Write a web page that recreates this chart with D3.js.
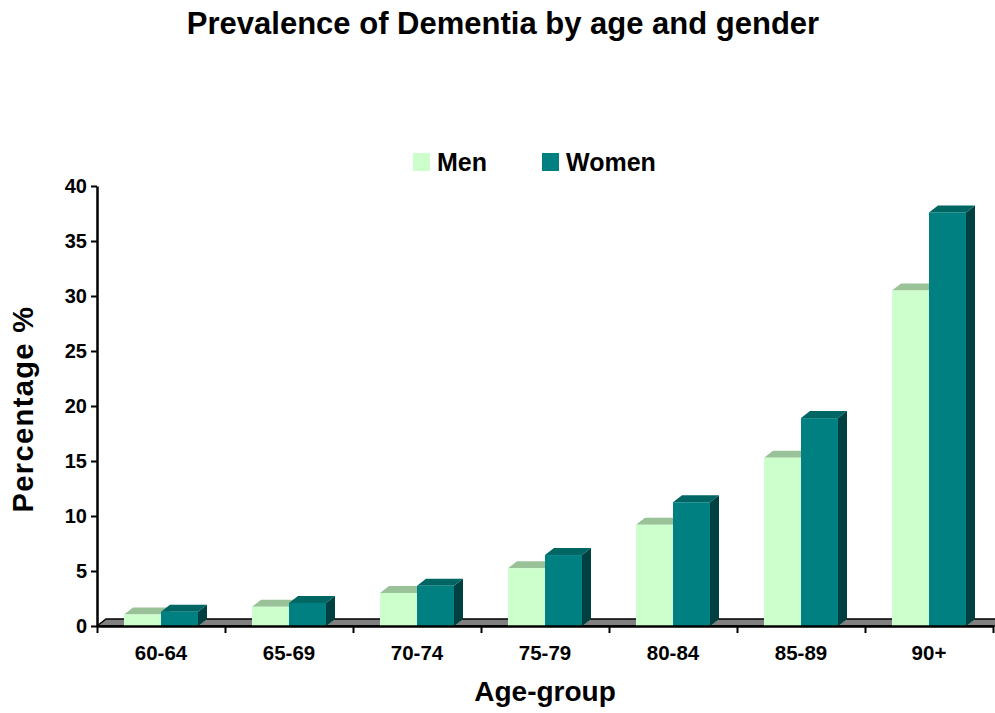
<!DOCTYPE html>
<html>
<head>
<meta charset="utf-8">
<script src="https://cdn.jsdelivr.net/npm/d3@7"></script>
<style>
  html, body { margin: 0; padding: 0; background: #fff; }
  svg { display: block; font-family: "Liberation Sans", Arial, sans-serif; font-weight: bold; }
</style>
</head>
<body>
<svg id="chart" width="995" height="713"></svg>
<script>
// Dementia prevalence (%) by age group
const ageGroups = ["60-64", "65-69", "70-74", "75-79", "80-84", "85-89", "90+"];
const menValues = [1.05, 1.75, 3.0, 5.25, 9.2, 15.3, 30.5];
const womenValues = [1.3, 2.1, 3.65, 6.45, 11.25, 18.9, 37.6];
const yTicks = [0, 5, 10, 15, 20, 25, 30, 35, 40];
const seriesNames = ["Men", "Women"];

const svg = d3.select("#chart");

const plotLeft = 97, plotRight = 993, plotTop = 186, plotBottom = 626;
const depthX = 9, depthY = 7;

const x = d3.scaleBand().domain(ageGroups).range([plotLeft, plotRight]).paddingInner(0).paddingOuter(0);
const xEdge = d3.scaleLinear().domain([0, ageGroups.length]).range([plotLeft, plotRight]);
const y = d3.scaleLinear().domain([0, 40]).range([plotBottom, plotTop]);

const barW = 37, barOffset = 27;

const palette = {
  Men:   { front: "#ccffcc", top: "#99c299", side: "#7fa87f" },
  Women: { front: "#008080", top: "#006663", side: "#004040" }
};

// Title
svg.append("text")
  .attr("x", 503).attr("y", 34)
  .attr("text-anchor", "middle")
  .attr("font-size", 31)
  .text("Prevalence of Dementia by age and gender");

// Floor of the 3D plot
const floorPath = d3.path();
floorPath.moveTo(plotLeft, plotBottom);
floorPath.lineTo(plotLeft + depthX, plotBottom - depthY);
floorPath.lineTo(plotRight + depthX + 20, plotBottom - depthY);
floorPath.lineTo(plotRight + 20, plotBottom);
floorPath.closePath();
svg.append("path")
  .attr("d", floorPath.toString())
  .attr("fill", "#808080")
  .attr("stroke", "#000")
  .attr("stroke-width", 1.5);

// Bars drawn as front / top / side faces
function drawBar(g, x0, w, v, col) {
  const yt = y(v), yb = y(0);
  g.append("path")
    .attr("d", `M${x0 + w},${yb} L${x0 + w + depthX},${yb - depthY} L${x0 + w + depthX},${yt - depthY} L${x0 + w},${yt} Z`)
    .attr("fill", col.side);
  g.append("path")
    .attr("d", `M${x0},${yt} L${x0 + depthX},${yt - depthY} L${x0 + w + depthX},${yt - depthY} L${x0 + w},${yt} Z`)
    .attr("fill", col.top);
  g.append("rect")
    .attr("x", x0).attr("y", yt)
    .attr("width", w).attr("height", yb - yt)
    .attr("fill", col.front);
}

const bars = svg.append("g");
ageGroups.forEach((grp, i) => {
  const gx = x(grp) + barOffset;
  const g = bars.append("g");
  drawBar(g, gx, barW, menValues[i], palette.Men);
  drawBar(g, gx + barW, barW, womenValues[i], palette.Women);
});

// Y axis
const yAxis = svg.append("g")
  .attr("transform", `translate(${plotLeft},0)`)
  .call(d3.axisLeft(y).tickValues(yTicks).tickSize(6).tickSizeOuter(0).tickPadding(4));
yAxis.select(".domain").attr("stroke-width", 2.5);
yAxis.selectAll(".tick line").attr("stroke-width", 2);
yAxis.selectAll(".tick text")
  .attr("font-size", 20).attr("font-family", "Liberation Sans, Arial, sans-serif")
  .attr("font-weight", "bold").attr("fill", "#000");

// X axis: tick marks at group boundaries, labels at group centres
const xTickAxis = svg.append("g")
  .attr("transform", `translate(0,${plotBottom})`)
  .call(d3.axisBottom(xEdge).tickValues(d3.range(ageGroups.length + 1)).tickFormat("").tickSize(7).tickSizeOuter(0));
xTickAxis.select(".domain").attr("stroke-width", 2.5);
xTickAxis.selectAll(".tick line").attr("stroke-width", 2);

const xLabelAxis = svg.append("g")
  .attr("transform", `translate(0,${plotBottom})`)
  .call(d3.axisBottom(x).tickSize(0).tickPadding(19));
xLabelAxis.select(".domain").remove();
xLabelAxis.selectAll(".tick text")
  .attr("font-size", 20.5).attr("font-family", "Liberation Sans, Arial, sans-serif")
  .attr("font-weight", "bold").attr("fill", "#000");

// Axis titles
svg.append("text")
  .attr("x", 545).attr("y", 701)
  .attr("text-anchor", "middle")
  .attr("font-size", 28)
  .text("Age-group");

svg.append("text")
  .attr("transform", "translate(33,409) rotate(-90)")
  .attr("text-anchor", "middle")
  .attr("font-size", 29)
  .attr("letter-spacing", 1.4)
  .text("Percentage %");

// Legend
const legendItems = [
  { name: seriesNames[0], sx: 413, tx: 437, color: palette.Men.front },
  { name: seriesNames[1], sx: 542, tx: 566, color: palette.Women.front }
];
const legend = svg.append("g");
legendItems.forEach(d => {
  legend.append("rect")
    .attr("x", d.sx).attr("y", 153)
    .attr("width", 17).attr("height", 18)
    .attr("fill", d.color);
  legend.append("text")
    .attr("x", d.tx).attr("y", 171)
    .attr("font-size", 25)
    .text(d.name);
});
</script>
</body>
</html>
